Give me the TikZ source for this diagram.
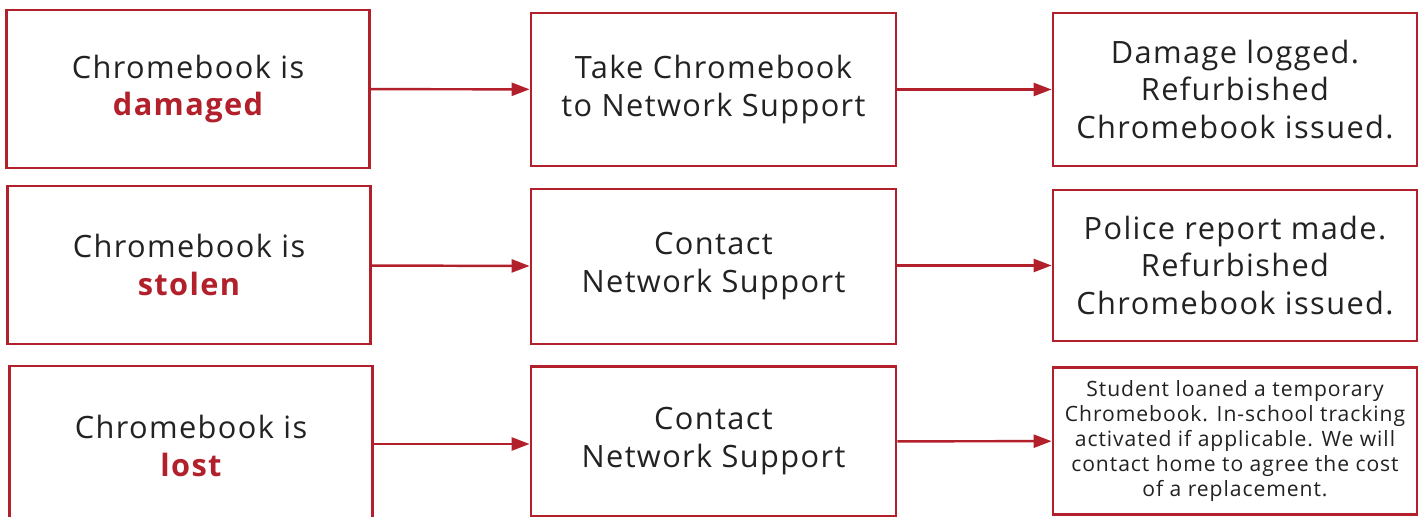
\documentclass[tikz,border=0pt]{standalone}
\usepackage{fontspec}
\setmainfont{Open Sans}[LetterSpace=4.5]
\usetikzlibrary{arrows.meta}
\definecolor{schoolred}{RGB}{178,32,43}
\definecolor{inkgrey}{RGB}{34,34,34}
\newcommand{\what}[1]{{\color{schoolred}\bfseries #1}}
\begin{document}
\begin{tikzpicture}[x=0.02cm, y=-0.02cm,
    box/.style={draw=schoolred, line width=1.6pt, fill=white, text=inkgrey,
      minimum width=7.26cm, align=center,
      font=\fontsize{17.5}{21.6}\selectfont},
    flow/.style={draw=schoolred, line width=1.4pt,
      -{Triangle[length=0.36cm, width=0.26cm]}}]
    \useasboundingbox (0,0) rectangle (1421,517);

    % What happened
    \node[box, minimum height=3.16cm] (damaged) at (188,89) {Chromebook is\\\what{damaged}};
    \node[box, minimum height=3.16cm] (stolen) at (189,265) {Chromebook is\\\what{stolen}};
    \node[box, minimum height=3.2cm] (lost) at (191,446) {Chromebook is\\\what{lost}};

    % What to do
    \node[box, minimum width=7.3cm, minimum height=3.06cm] (take) at (713.5,89.5) {Take Chromebook\\to Network Support};
    \node[box, minimum width=7.3cm, minimum height=3.1cm] (contactS) at (713.5,266.5) {Contact\\Network Support};
    \node[box, minimum width=7.3cm, minimum height=3cm] (contactL) at (713.5,441.5) {Contact\\Network Support};

    % Outcome
    \node[box, minimum width=7.28cm, minimum height=3.06cm] (logged) at (1235,89.5) {Damage logged.\\Refurbished\\Chromebook issued.};
    \node[box, minimum width=7.28cm, minimum height=3.02cm] (police) at (1235,265.5) {Police report made.\\Refurbished\\Chromebook issued.};
    \node[box, minimum width=7.28cm, minimum height=2.94cm,
      font=\fontsize{12}{14.2}\selectfont] (loaned) at (1235,441) {Student loaned a temporary\\Chromebook. In-school tracking\\activated if applicable. We will\\contact home to agree the cost\\of a replacement.};

    % Arrows
    \draw[flow] (damaged) -- (take);
    \draw[flow] (take) -- (logged);
    \draw[flow] (stolen) -- (contactS);
    \draw[flow] (contactS.east |- police) -- (police);
    \draw[flow] (lost.east |- 0,444) -- (contactL.west |- 0,444);
    \draw[flow] (contactL) -- (loaned);
\end{tikzpicture}
\end{document}
